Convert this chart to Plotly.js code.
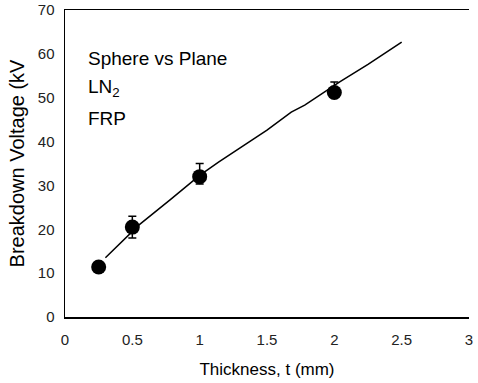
<!DOCTYPE html>
<html>
<head>
<meta charset="utf-8">
<script src="https://cdn.plot.ly/plotly-3.0.1.min.js"></script>
<style>html,body{margin:0;padding:0;background:#fff;}#chart{width:478px;height:383px;}</style>
</head>
<body>
<div id="chart"></div>
<script>
// Measured data points (thickness in mm, breakdown voltage in kV)
const thickness = [0.25, 0.5, 1.0, 2.0];
const voltage = [11.4, 20.5, 32.0, 51.2];
const errPlus = [0, 2.5, 3.0, 2.4];
const errMinus = [0, 2.5, 1.7, 0];

// Fitted curve
const curveX = [0.3, 0.55, 0.78, 1.0, 1.14, 1.31, 1.5, 1.68, 1.78, 2.04, 2.25, 2.5];
const curveY = [13.5, 21.0, 26.7, 32.3, 35.3, 38.8, 42.6, 46.7, 48.3, 53.6, 57.6, 62.7];

const xTicks = [0, 0.5, 1, 1.5, 2, 2.5, 3];
const yTicks = [0, 10, 20, 30, 40, 50, 60, 70];

const font = "Liberation Sans, Arial, sans-serif";

const traces = [
  {x: curveX, y: curveY, mode: 'lines', line: {color: '#000', width: 1.5}, hoverinfo: 'skip'},
  {x: thickness, y: voltage, mode: 'markers',
   marker: {color: '#000', size: 15},
   error_y: {type: 'data', symmetric: false, array: errPlus, arrayminus: errMinus,
             color: '#000', thickness: 1.5, width: 4}}
];

const layout = {
  width: 478, height: 383,
  margin: {l: 65, r: 9, t: 10, b: 66},
  paper_bgcolor: '#fff', plot_bgcolor: '#fff',
  showlegend: false,
  font: {family: font, color: '#000', size: 14},
  xaxis: {
    range: [0, 3], tickvals: xTicks, ticktext: xTicks.map(String),
    showgrid: false, zeroline: false, showline: true, linecolor: '#000', linewidth: 1.5,
    mirror: true, ticks: '', ticklabelstandoff: 8,
    tickfont: {family: font, size: 15, color: '#222'},
    title: {text: 'Thickness, t (mm)', font: {family: font, size: 17}, standoff: 16}
  },
  yaxis: {
    range: [0, 70], tickvals: yTicks, ticktext: yTicks.map(String),
    showgrid: false, zeroline: false, showline: true, linecolor: '#000', linewidth: 1.5,
    ticks: '', ticklabelstandoff: 6, tickfont: {family: font, size: 15, color: '#222'},
    title: {text: 'Breakdown Voltage (kV', font: {family: font, size: 20}, standoff: 8}
  },
  annotations: [
    {xref: 'paper', yref: 'paper', x: 0.052, y: 0.843, xanchor: 'left', yanchor: 'middle',
     text: 'Sphere vs Plane', showarrow: false, font: {family: font, size: 19}},
    {xref: 'paper', yref: 'paper', x: 0.052, y: 0.745, xanchor: 'left', yanchor: 'middle',
     text: 'LN<sub>2</sub>', showarrow: false, font: {family: font, size: 19}},
    {xref: 'paper', yref: 'paper', x: 0.052, y: 0.648, xanchor: 'left', yanchor: 'middle',
     text: 'FRP', showarrow: false, font: {family: font, size: 19}}
  ]
};

Plotly.newPlot('chart', traces, layout, {displayModeBar: false, staticPlot: true});
</script>
</body>
</html>
